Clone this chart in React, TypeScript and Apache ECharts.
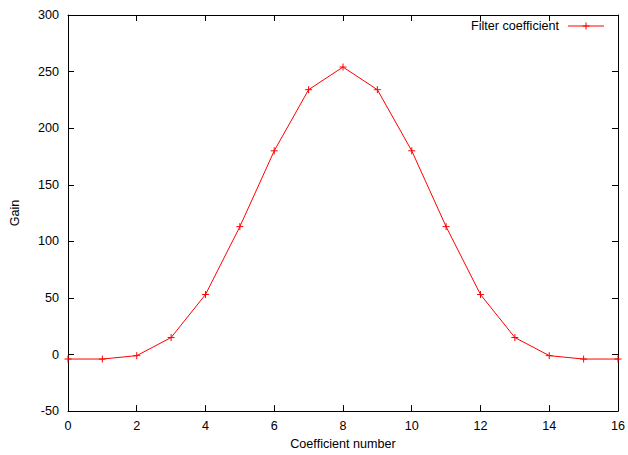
import React, { useEffect, useRef } from "react";
import * as echarts from "echarts";

const xValues = [0, 1, 2, 3, 4, 5, 6, 7, 8, 9, 10, 11, 12, 13, 14, 15, 16];
const gainValues = [-4, -4, -1, 15, 53, 113, 180, 234, 254, 234, 180, 113, 53, 15, -1, -4, -4];
const seriesName = "Filter coefficient";
const xAxisTitle = "Coefficient number";
const yAxisTitle = "Gain";

const plusPath = "path://M0,5L10,5M5,0L5,10";

export default function App() {
  const ref = useRef<HTMLDivElement>(null);
  useEffect(() => {
    if (!ref.current) return;
    const chart = echarts.init(ref.current, undefined, { renderer: "svg" });
    const font = "Liberation Sans, Arial, sans-serif";
    const fs = 12.6;
    const axisCommon = {
      axisLine: { show: true, onZero: false, lineStyle: { color: "#000", width: 1 } },
      axisTick: { show: true, inside: true, length: 6, lineStyle: { color: "#000" } },
      splitLine: { show: false },
    };
    chart.setOption({
      animation: false,
      backgroundColor: "#fff",
      grid: { left: 67, right: 9, top: 15, bottom: 43, containLabel: false },
      xAxis: [
        {
          type: "value", min: 0, max: 16, interval: 2,
          ...axisCommon,
          axisLabel: { color: "#000", fontSize: fs, fontFamily: font, margin: 8 },
          name: xAxisTitle, nameLocation: "middle", nameGap: 25,
          nameTextStyle: { color: "#000", fontSize: fs, fontFamily: font },
        },
        {
          type: "value", min: 0, max: 16, interval: 2, position: "top",
          ...axisCommon,
          axisLabel: { show: false },
        },
      ],
      yAxis: [
        {
          type: "value", min: -50, max: 300, interval: 50,
          ...axisCommon,
          axisLabel: { color: "#000", fontSize: fs, fontFamily: font, margin: 9 },
          name: yAxisTitle, nameLocation: "middle", nameGap: 47, nameRotate: 90,
          nameTextStyle: { color: "#000", fontSize: fs, fontFamily: font },
        },
        {
          type: "value", min: -50, max: 300, interval: 50, position: "right",
          ...axisCommon,
          axisLabel: { show: false },
        },
      ],
      series: [
        {
          name: seriesName,
          type: "line",
          data: xValues.map((x, i) => [x, gainValues[i]]),
          symbol: plusPath,
          symbolSize: 7,
          showAllSymbol: true,
          lineStyle: { color: "#ff0000", width: 1 },
          itemStyle: { color: "none", borderColor: "#ff0000", borderWidth: 1 },
          clip: false,
        },
      ],
      graphic: [
        {
          type: "text", x: 559, y: 26,
          style: { text: seriesName, fill: "#000", font: `${fs}px ${font}`, textAlign: "right", textVerticalAlign: "middle" },
        },
        { type: "line", shape: { x1: 568, y1: 26, x2: 604, y2: 26 }, style: { stroke: "#ff0000", lineWidth: 1 } },
        { type: "line", shape: { x1: 582.5, y1: 26, x2: 589.5, y2: 26 }, style: { stroke: "#ff0000", lineWidth: 1 } },
        { type: "line", shape: { x1: 586, y1: 22.5, x2: 586, y2: 29.5 }, style: { stroke: "#ff0000", lineWidth: 1 } },
      ],
    });
    return () => chart.dispose();
  }, []);
  return <div ref={ref} style={{ width: 628, height: 455, position: "absolute", left: 0, top: 0 }} />;
}
